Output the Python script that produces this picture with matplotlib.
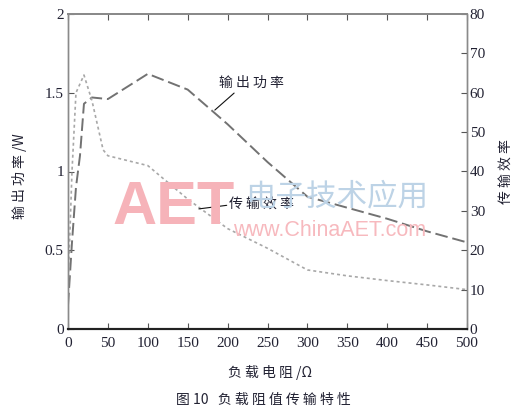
import matplotlib
matplotlib.use("Agg")
import matplotlib.pyplot as plt

# ---- data ----
resistance = [0, 5, 10, 15, 20, 30, 50, 100, 150, 200, 250, 300, 350, 400, 450, 500]
power_w = [0.15, 0.55, 0.90, 1.10, 1.43, 1.47, 1.46, 1.62, 1.52, 1.30, 1.06, 0.84, 0.77, 0.70, 0.62, 0.55]
eff_x = [0, 5, 10, 20, 30, 44, 50, 100, 150, 200, 250, 300, 350, 400, 450, 500]
efficiency = [10, 40, 60, 64.5, 58, 45.5, 44, 41.5, 33, 25.5, 20.5, 15, 13.5, 12.3, 11.2, 10]
x_ticks = [0, 50, 100, 150, 200, 250, 300, 350, 400, 450, 500]
left_ticks = [0, 0.5, 1, 1.5, 2]
left_labels = ["0", "0.5", "1", "1.5", "2"]
right_ticks = [0, 10, 20, 30, 40, 50, 60, 70, 80]

CJK = ["Noto Sans CJK SC", "DejaVu Sans"]
SERIF = ["Liberation Serif", "DejaVu Serif"]
TXT = "#222233"

fig = plt.figure(figsize=(5.28, 4.16), dpi=100)
ax = fig.add_axes([68/528, 1-329/416, (467-68)/528, (329-14)/416])
ax2 = ax.twinx()

# watermark
fig.text(174/528, 1-209/416, "AET", fontsize=44, fontweight="bold", color="#f6b3b9",
         ha="center", va="center", family=["Liberation Sans"], zorder=0)
fig.text(337/528, 1-197/416, "电子技术应用", fontsize=22, color="#bdd3e6",
         ha="center", va="center", family=CJK, zorder=0)
fig.text(330/528, 1-230/416, "www.ChinaAET.com", fontsize=15.5, color="#f7b9be",
         ha="center", va="center", family=["Liberation Sans"], zorder=0)

ax.plot(resistance, power_w, color="#727272", lw=1.4, dashes=(6.5, 2.5))
ax2.plot(eff_x, efficiency, color="#a8a8a8", lw=1.2, dashes=(1.8, 1.8))

ax.set_xlim(0, 500)
ax.set_ylim(0, 2)
ax2.set_ylim(0, 80)
ax.set_xticks(x_ticks)
ax.set_yticks(left_ticks)
ax.set_yticklabels(left_labels)
ax2.set_yticks(right_ticks)

for a in (ax, ax2):
    a.patch.set_visible(False)
    for s in a.spines.values():
        s.set_color("#8a8a8a")
        s.set_linewidth(1.0)
    a.spines["bottom"].set_color("#222222")
    a.spines["bottom"].set_linewidth(1.5)
    a.spines["top"].set_linewidth(1.4)
ax.tick_params(axis="x", direction="in", length=4, color="#555555", labelsize=11,
               labelcolor=TXT, top=True, pad=6)
ax.tick_params(axis="y", direction="in", length=4, color="#555555", labelsize=11,
               labelcolor=TXT, pad=3)
ax2.tick_params(direction="in", length=4, color="#555555", labelsize=11,
                labelcolor=TXT, pad=2)
for lab in ax.get_xticklabels() + ax.get_yticklabels() + ax2.get_yticklabels():
    lab.set_family(SERIF)

fig.text(20/528, 1-176/416, "输 出 功 率 /W", rotation=90, fontsize=10, color=TXT,
         ha="center", va="center", family=CJK)
fig.text(507/528, 1-172/416, "传 输 效 率", rotation=90, fontsize=10, color=TXT,
         ha="center", va="center", family=CJK)
fig.text(270/528, 1-372/416, "负 载 电 阻 /Ω", fontsize=10, color=TXT,
         ha="center", va="center", family=CJK)
fig.text(263/528, 1-400/416, "图 10   负 载 阻 值 传 输 特 性", fontsize=10, color=TXT,
         ha="center", va="center", family=CJK)

# annotations
ax.annotate("输 出 功 率", xy=(184, 1.39), xytext=(230, 1.56), fontsize=10, color=TXT,
            family=CJK, ha="center", va="center",
            arrowprops=dict(arrowstyle="-", color="#111111", lw=0.8,
                            shrinkA=0, shrinkB=0, relpos=(0.28, 0.0)))
ax2.annotate("传 输 效 率", xy=(164, 30.5), xytext=(243, 31.5), fontsize=10, color=TXT,
             family=CJK, ha="center", va="center", zorder=5,
             arrowprops=dict(arrowstyle="-", color="#111111", lw=0.8,
                             shrinkA=0, shrinkB=0, relpos=(0.0, 0.5)))

fig.savefig("out.png", dpi=100)
